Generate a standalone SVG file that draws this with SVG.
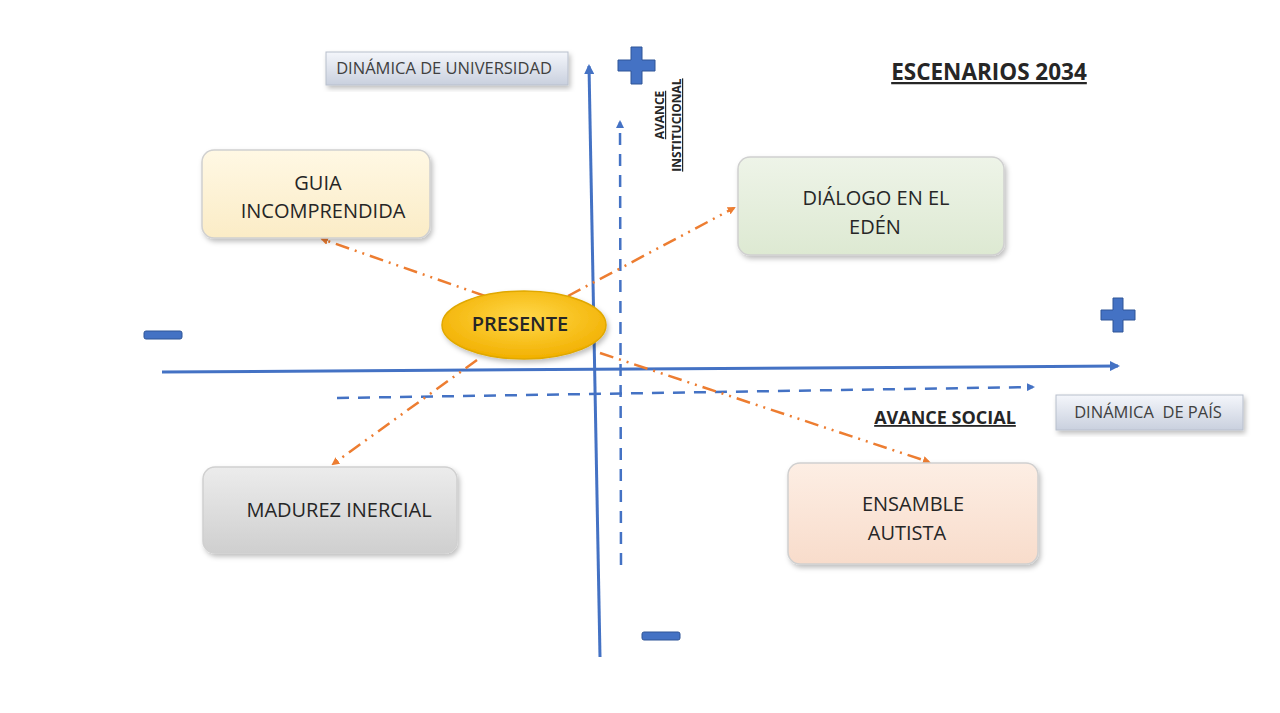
<svg xmlns="http://www.w3.org/2000/svg" width="1280" height="713" viewBox="0 0 1280 713">
<style>
.box{stroke:#d0d0d0;stroke-width:1.5;filter:url(#sh)}
.bt{font-family:"Open Sans","Liberation Sans",sans-serif;font-size:20px;fill:#262626;text-anchor:middle}
.lab{font-family:"Open Sans","Liberation Sans",sans-serif;font-size:16.5px;fill:#404040;text-anchor:middle}
.ttl{font-family:"Open Sans","Liberation Sans",sans-serif;font-weight:bold;fill:#262626;text-decoration:underline}
.ax{stroke:#4472c4;stroke-width:3;fill:none}
.dax{stroke:#4472c4;stroke-width:2.5;fill:none;stroke-dasharray:12 9}
.con{stroke:#ed7d31;stroke-width:2.5;fill:none;stroke-dasharray:14 6 2 6 2 6}
.sym{fill:#4472c4;stroke:#2f5597;stroke-width:1}
</style>
<defs>
<filter id="sh" x="-10%" y="-10%" width="125%" height="130%"><feDropShadow dx="2" dy="3" stdDeviation="2.5" flood-color="#000" flood-opacity="0.25"/></filter>
<marker id="ah" markerWidth="10" markerHeight="10" refX="8" refY="5" orient="auto" markerUnits="userSpaceOnUse"><path d="M0,0 L10,5 L0,10 z" fill="#4472c4"/></marker>
<marker id="ahs" markerWidth="8" markerHeight="8" refX="6" refY="4" orient="auto" markerUnits="userSpaceOnUse"><path d="M0,0 L8,4 L0,8 z" fill="#4472c4"/></marker>
<marker id="oh" markerWidth="8" markerHeight="8" refX="6" refY="4" orient="auto" markerUnits="userSpaceOnUse"><path d="M0,0 L8,4 L0,8 z" fill="#ed7d31"/></marker>
<linearGradient id="gl" x1="0" y1="0" x2="0" y2="1"><stop offset="0" stop-color="#f4f6fb"/><stop offset="1" stop-color="#c9d0de"/></linearGradient>
<radialGradient id="gp" cx="0.5" cy="0.4" r="0.6"><stop offset="0" stop-color="#ffd84a"/><stop offset="1" stop-color="#f2b000"/></radialGradient>
<linearGradient id="gg" x1="0" y1="0" x2="0" y2="1"><stop offset="0" stop-color="#fff8e4"/><stop offset="1" stop-color="#fbecc6"/></linearGradient>
<linearGradient id="gd" x1="0" y1="0" x2="0" y2="1"><stop offset="0" stop-color="#eef4e8"/><stop offset="1" stop-color="#dde9d2"/></linearGradient>
<linearGradient id="gm" x1="0" y1="0" x2="0" y2="1"><stop offset="0" stop-color="#ececec"/><stop offset="1" stop-color="#cfcfcf"/></linearGradient>
<linearGradient id="ge" x1="0" y1="0" x2="0" y2="1"><stop offset="0" stop-color="#fdeee4"/><stop offset="1" stop-color="#f8dccb"/></linearGradient>
</defs>
<rect width="1280" height="713" fill="#ffffff"/>

<g id="axes">
<path class="ax" d="M600,657 L589,66" marker-end="url(#ah)"/>
<path class="ax" d="M162,372 L1118,366" marker-end="url(#ah)"/>
<path class="dax" d="M621,565 L620,122" marker-end="url(#ahs)"/>
<path class="dax" d="M337,398 L1033,387" marker-end="url(#ahs)"/>
</g>

<g id="connectors">
<path class="con" d="M485,296 L322,239" marker-end="url(#oh)"/>
<path class="con" d="M568,296 L734,208" marker-end="url(#oh)"/>
<path class="con" d="M477,360 L333,464" marker-end="url(#oh)"/>
<path class="con" d="M600,353 L929,462" marker-end="url(#oh)"/>
</g>

<g id="symbols">
<path class="sym" d="M631,47 h11 v13 h13 v11 h-13 v13 h-11 v-13 h-13 v-11 h13 z"/>
<path class="sym" d="M1113,298 h10 v12 h12 v10 h-12 v12 h-10 v-12 h-12 v-10 h12 z"/>
<rect class="sym" x="144" y="331" width="38" height="8" rx="2"/>
<rect class="sym" x="642" y="632" width="38" height="8" rx="2"/>
</g>

<g id="label-universidad">
<rect x="326" y="52" width="242" height="33" fill="url(#gl)" stroke="#b8bfcc" filter="url(#sh)"/>
<text class="lab" x="444" y="74">DINÁMICA DE UNIVERSIDAD</text>
</g>
<g id="label-pais">
<rect x="1056" y="395" width="187" height="35" fill="url(#gl)" stroke="#b8bfcc" filter="url(#sh)"/>
<text class="lab" x="1148" y="418" xml:space="preserve">DINÁMICA  DE PAÍS</text>
</g>

<g id="title">
<text class="ttl" x="989" y="80" font-size="22.5" text-anchor="middle">ESCENARIOS 2034</text>
</g>
<g id="avance-social">
<text class="ttl" x="945" y="424" font-size="18" text-anchor="middle">AVANCE SOCIAL</text>
</g>
<g id="avance-institucional">
<text class="ttl" font-size="12" text-anchor="middle" transform="translate(664,115) rotate(-90)">AVANCE</text>
<text class="ttl" font-size="12" text-anchor="middle" transform="translate(681,125) rotate(-90)">INSTITUCIONAL</text>
</g>

<g id="guia">
<rect class="box" x="202" y="150" width="228" height="88" rx="12" fill="url(#gg)"/>
<text class="bt" x="318" y="190">GUIA</text>
<text class="bt" x="323" y="218">INCOMPRENDIDA</text>
</g>
<g id="dialogo">
<rect class="box" x="738" y="157" width="266" height="98" rx="12" fill="url(#gd)"/>
<text class="bt" x="876" y="205">DIÁLOGO EN EL</text>
<text class="bt" x="875" y="234">EDÉN</text>
</g>
<g id="madurez">
<rect class="box" x="203" y="467" width="254" height="86" rx="12" fill="url(#gm)"/>
<text class="bt" x="339" y="517" font-size="21">MADUREZ INERCIAL</text>
</g>
<g id="ensamble">
<rect class="box" x="788" y="463" width="250" height="101" rx="12" fill="url(#ge)"/>
<text class="bt" x="913" y="511">ENSAMBLE</text>
<text class="bt" x="907" y="540">AUTISTA</text>
</g>
<g id="presente">
<ellipse cx="524" cy="325" rx="82" ry="34" fill="url(#gp)" stroke="#e0a800" stroke-width="1.5" filter="url(#sh)"/>
<text class="bt" x="520" y="331" font-weight="600" font-size="19">PRESENTE</text>
</g>
</svg>
